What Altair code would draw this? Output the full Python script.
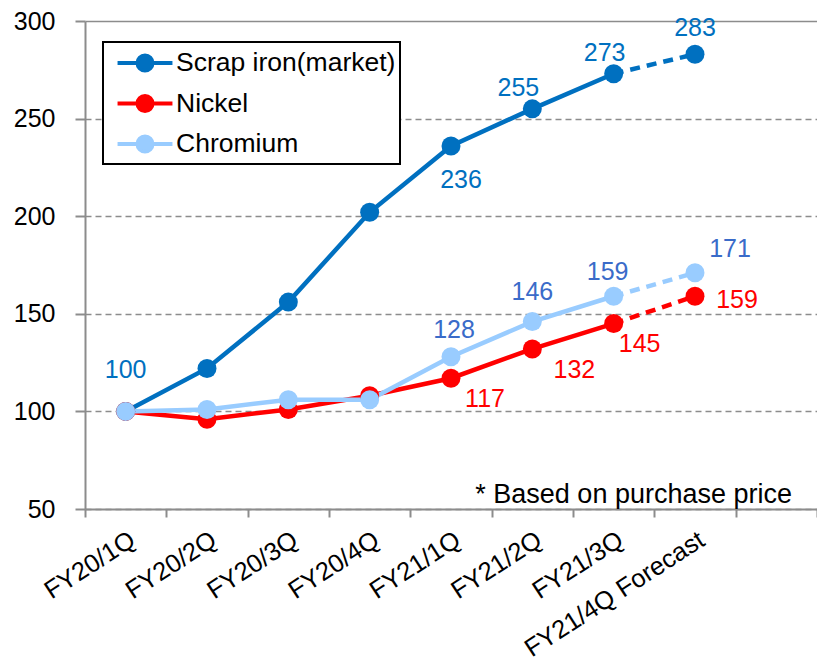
import altair as alt
import pandas as pd

# ---- data -------------------------------------------------------------
quarters = ["FY20/1Q", "FY20/2Q", "FY20/3Q", "FY20/4Q",
            "FY21/1Q", "FY21/2Q", "FY21/3Q", "FY21/4Q Forecast"]
series_names = ["Scrap iron(market)", "Nickel", "Chromium"]
scrap_iron = [100, 122, 156, 202, 236, 255, 273, 283]
nickel = [100, 96, 101, 108, 117, 132, 145, 159]
chromium = [100, 101, 106, 106, 128, 146, 159, 171]
y_ticks = [50, 100, 150, 200, 250, 300]
y_range = [50, 300]
note_text = "* Based on purchase price"

# ---- styling ----------------------------------------------------------
line_colors = ["#0070C0", "#FF0000", "#99CCFF"]
label_colors = ["#0070C0", "#FF0000", "#3A6BC9"]
axis_gray = "#8C8C8C"
FONT = "Liberation Sans"
PLOT_W, PLOT_H = 732, 488

# value labels: (series, quarter) -> pixel offset of the label from its marker
label_offsets = {
    ("Scrap iron(market)", "FY20/1Q"): (0, -41),
    ("Scrap iron(market)", "FY21/1Q"): (10, 34),
    ("Scrap iron(market)", "FY21/2Q"): (-14, -21),
    ("Scrap iron(market)", "FY21/3Q"): (-9, -21),
    ("Scrap iron(market)", "FY21/4Q Forecast"): (0, -26),
    ("Nickel", "FY21/1Q"): (34, 21),
    ("Nickel", "FY21/2Q"): (42, 21),
    ("Nickel", "FY21/3Q"): (26, 20),
    ("Nickel", "FY21/4Q Forecast"): (42, 4),
    ("Chromium", "FY21/1Q"): (3, -27),
    ("Chromium", "FY21/2Q"): (0, -30),
    ("Chromium", "FY21/3Q"): (-6, -24),
    ("Chromium", "FY21/4Q Forecast"): (35, -24),
}

# ---- tidy table -------------------------------------------------------
rows = []
for name, values in zip(series_names, [scrap_iron, nickel, chromium]):
    for i, (q, v) in enumerate(zip(quarters, values)):
        dx, dy = label_offsets.get((name, q), (None, None))
        rows.append({"series": name, "quarter": q, "value": v, "idx": i,
                     "dx": dx, "dy": dy})
df = pd.DataFrame(rows)
last = len(quarters) - 1
solid = df[df["idx"] < last]                 # actual results
forecast = df[df["idx"] >= last - 1]         # last actual -> forecast
labelled = df[df["dx"].notna()]

x_domain = quarters + [" "]
half_band = PLOT_W / len(x_domain) / 2
units_per_px = (y_range[1] - y_range[0]) / PLOT_H

# ---- scales / axes ----------------------------------------------------
x_scale = alt.Scale(type="band", domain=x_domain, paddingInner=0, paddingOuter=0)
x_enc = alt.X(
    "quarter:O", scale=x_scale,
    axis=alt.Axis(title=None, labelAngle=-33, labelFontSize=25.5, labelFont=FONT,
                  labelColor="black", tickSize=8, labelPadding=10,
                  labelLimit=400, tickBand="extent", grid=False,
                  domainColor=axis_gray, domainWidth=2, tickColor=axis_gray,
                  tickWidth=2),
)
y_scale = alt.Scale(domain=y_range, nice=False, zero=False)
y_enc = alt.Y(
    "value:Q", scale=y_scale,
    axis=alt.Axis(title=None, values=y_ticks, labelFontSize=25, labelFont=FONT,
                  labelColor="black", tickSize=10, labelPadding=20,
                  domainColor=axis_gray, domainWidth=2, tickColor=axis_gray,
                  tickWidth=2, grid=True, gridColor=axis_gray, gridWidth=1.5,
                  gridDash={"condition": {"test": "datum.value === 300", "value": []},
                            "value": [6, 4]}),
)

# legend symbol: short line with a dot in the middle (unit = 15 px)
legend_symbol = ("M-1.83,0H1.83M0.5,0A0.5,0.5,0,1,1,-0.5,0"
                 "A0.5,0.5,0,1,1,0.5,0Z")
legend = alt.Legend(title=None, orient="none", legendX=18, legendY=21,
                    symbolType=legend_symbol, symbolSize=900,
                    symbolStrokeWidth=4, symbolFillColor="white",
                    symbolStrokeColor="white", symbolOffset=21,
                    labelFontSize=26.5, labelFont=FONT, labelColor="black",
                    labelLimit=0, labelOffset=14, padding=4, rowPadding=7.5,
                    strokeColor="black", fillColor="white")

series_scale = alt.Scale(domain=series_names, range=line_colors)

lines = alt.Chart(solid).mark_line(strokeWidth=4.5).encode(
    x=x_enc, y=y_enc,
    stroke=alt.Stroke("series:N", scale=series_scale, legend=legend),
)
dashed = alt.Chart(forecast).mark_line(strokeWidth=4.5, strokeDash=[10, 7]).encode(
    x=x_enc, y=y_enc,
    stroke=alt.Stroke("series:N", scale=series_scale, legend=legend),
)
points = alt.Chart(df).mark_point(filled=True, size=360, opacity=1).encode(
    x=x_enc, y=y_enc,
    fill=alt.Fill("series:N", scale=series_scale, legend=legend),
)
labels = alt.Chart(labelled).transform_calculate(
    label_y=f"datum.value - datum.dy * {units_per_px}",
    label_dx=f"datum.dx + {half_band}",
).mark_text(fontSize=25, font=FONT, baseline="middle").encode(
    x=x_enc,
    y=alt.Y("label_y:Q", scale=y_scale),
    text=alt.Text("value:Q", format="d"),
    xOffset=alt.XOffset("label_dx:Q", scale=None),
    color=alt.Color("series:N", scale=alt.Scale(domain=series_names,
                                                range=label_colors),
                    legend=None),
)
note = alt.Chart(pd.DataFrame({"note": [note_text]})).mark_text(
    align="right", baseline="alphabetic", fontSize=27, font=FONT,
    color="black").encode(x=alt.value(707), y=alt.value(482), text="note:N")

chart = alt.layer(lines, dashed, points, labels, note).properties(
    width=PLOT_W, height=PLOT_H,
    autosize=alt.AutoSizeParams(type="none"),
    padding={"left": 85, "top": 21, "right": 0, "bottom": 160},
).configure_view(stroke=None).configure_legend(strokeWidth=2)

chart.save("out.html", embed_options={"renderer": "svg", "actions": False})
